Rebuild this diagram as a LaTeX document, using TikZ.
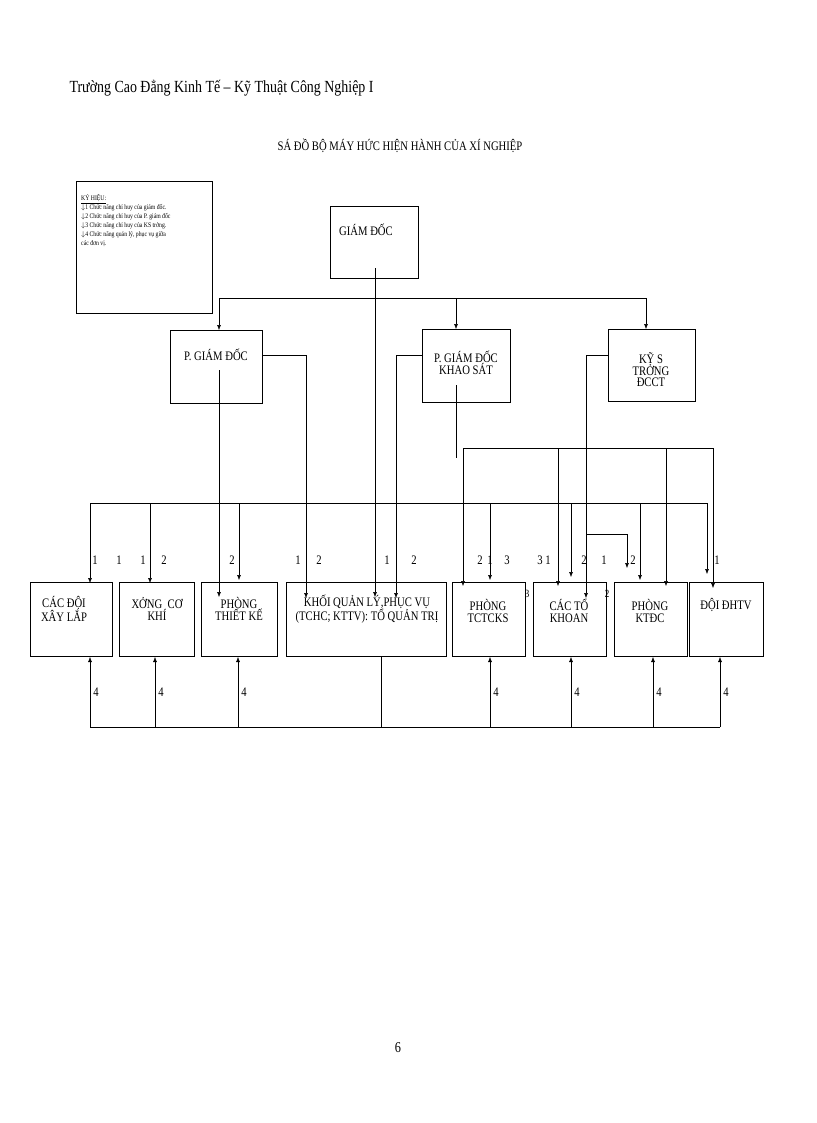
\documentclass[tikz,border=0pt]{standalone}
\usepackage{fontspec}
\setmainfont{Liberation Serif}
\newfontfamily\cond{Liberation Serif}[FakeStretch=0.82]
\usetikzlibrary{arrows.meta}
\begin{document}
\begin{tikzpicture}[x=1pt,y=-1pt,
  box/.style={draw,line width=0.8pt,inner sep=0,anchor=north west},
  bt/.style={font=\cond\fontsize{13}{12}\selectfont,align=center},
  ln/.style={line width=0.5pt},
  ar/.style={ln,-{Latex[length=5pt,width=4pt]}},
  num/.style={font=\cond\fontsize{13}{13}\selectfont,inner sep=0}]
\useasboundingbox (0,0) rectangle (816,1123);
\node[font=\cond\fontsize{17}{17}\selectfont,anchor=west] (title) at (66,88) {Trường Cao Đẳng Kinh Tế – Kỹ Thuật Công Nghiệp I};
\node[font=\cond\fontsize{13}{13}\selectfont] (sub) at (400,146) {SÁ ĐỒ BỘ MÁY HỨC HIỆN HÀNH CỦA XÍ NGHIỆP};
% legend
\draw[line width=0.8pt] (76,181) rectangle (212,313);
\node[anchor=north west,font=\cond\fontsize{7}{9}\selectfont,align=left,inner sep=0] (leg) at (81,194) {\underline{KÝ HIỆU:}\\$\downarrow$1 Chức năng chỉ huy của giám đốc.\\$\downarrow$2 Chức năng chỉ huy của P. giám đốc\\$\downarrow$3 Chức năng chỉ huy của KS trởng.\\$\downarrow$4 Chức năng quản lý, phục vụ giữa\\các đơn vị.};
% top boxes
\node[box,minimum width=88,minimum height=72] (gd) at (330,206) {};
\node[bt] (gdt) at (366,230) {GIÁM ĐỐC};
\node[box,minimum width=92,minimum height=73] (pgd) at (170,330) {};
\node[bt] (pgdt) at (216,355) {P. GIÁM ĐỐC};
\node[box,minimum width=88,minimum height=73] (pks) at (422,329) {};
\node[bt] (pkst) at (466,363) {P. GIÁM ĐỐC\\KHAO SÁT};
\node[box,minimum width=87,minimum height=72] (ks) at (608,329) {};
\node[bt,font=\cond\fontsize{13}{11}\selectfont] (kst) at (651,370) {KỸ S\\TRỞNG\\ĐCCT};
% bottom boxes
\node[box,minimum width=82,minimum height=74] (b1) at (30,582) {};
\node[bt] at (64,609) {CÁC ĐỘI\\XÂY LẮP};
\node[box,minimum width=75,minimum height=74] (b2) at (119,582) {};
\node[bt] at (157,609) {XỞNG\ \ CƠ\\KHÍ};
\node[box,minimum width=76,minimum height=74] (b3) at (201,582) {};
\node[bt] at (239,609) {PHÒNG\\THIẾT KẾ};
\node[box,minimum width=160,minimum height=74] (b4) at (286,582) {};
\node[bt] at (367,609) {KHỐI QUẢN LÝ,PHỤC VỤ\\(TCHC; KTTV): TỔ QUẢN TRỊ};
\node[box,minimum width=73,minimum height=74] (b5) at (452,582) {};
\node[bt] at (488,611) {PHÒNG\\TCTCKS};
\node[box,minimum width=73,minimum height=74] (b6) at (533,582) {};
\node[bt] at (569,611) {CÁC TỔ\\KHOAN};
\node[box,minimum width=73,minimum height=74] (b7) at (614,582) {};
\node[bt] at (650,611) {PHÒNG\\KTĐC};
\node[box,minimum width=74,minimum height=74] (b8) at (689,582) {};
\node[bt] at (726,605) {ĐỘI ĐHTV};
% GD connections
\draw[ln] (375,268) -- (375,298);
\draw[ln] (219,298) -- (646,298);
\draw[ar] (219,298) -- (pgd.north west -| 219,330);
\draw[ar] (456,298) -- (pks.north -| 456,329);
\draw[ar] (646,298) -- (ks.north -| 646,329);
\draw[ar] (375,298) -- (375,597);
% PGD
\draw[ar] (219,370) -- (219,597);
\draw[ln] (pgd.east |- 0,355) -- (306,355);
\draw[ar] (306,355) -- (306,598);
% PGD KS
\draw[ln] (pks.west |- 0,355) -- (396,355);
\draw[ar] (396,355) -- (396,598);
\draw[ln] (456,385) -- (456,458);
\draw[ln] (463,448) -- (713,448);
\draw[ar] (463,448) -- (463,586);
\draw[ar] (558,448) -- (558,586);
\draw[ar] (666,448) -- (666,586);
\draw[ar] (713,448) -- (713,588);
% KS
\draw[ln] (ks.west |- 0,355) -- (586,355);
\draw[ar] (586,355) -- (586,598);
\draw[ln] (586,534) -- (627,534);
\draw[ar] (627,534) -- (627,568);
% long line
\draw[ln] (90,503) -- (707,503);
\foreach \x/\y in {90/583,150/583,239/580,490/580,571/577,640/580,707/574}
  \draw[ar] (\x,503) -- (\x,\y);
% bottom
\draw[ln] (90,727) -- (720,727);
\foreach \x in {90,155,238,490,571,653,720}{
  \draw[ar] (\x,727) -- (\x,657);
  \node[num] at (\x+6,692) {4};}
\draw[ln] (381,656) -- (381,727);
% numbers
\foreach \x/\t in {95/1,119/1,143/1,164/2,232/2,298/1,319/2,387/1,414/2,480/2,490/1,507/3,540/3,548/1,584/2,604/1,633/2,717/1}
  \node[num] at (\x,560) {\t};
\node[num,font=\cond\fontsize{11}{11}\selectfont] at (527,594) {3};
\node[num,font=\cond\fontsize{11}{11}\selectfont] at (607,594) {2};
\node[font=\cond\fontsize{15}{15}\selectfont] (pg) at (398,1048) {6};
\end{tikzpicture}
\end{document}
